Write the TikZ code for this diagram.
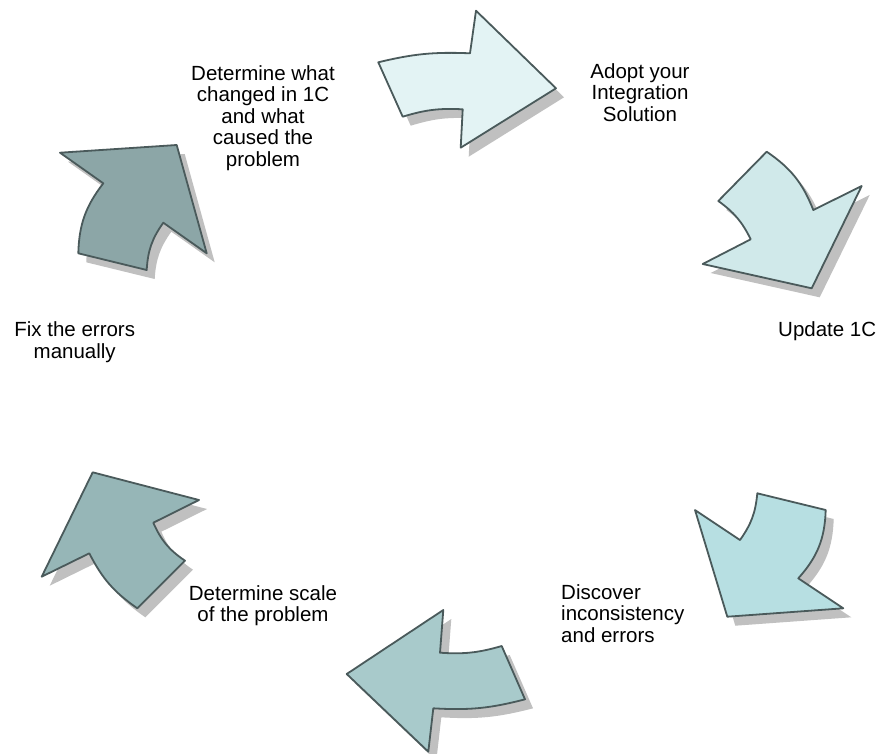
\documentclass[tikz,border=0pt]{standalone}
\usepackage{fontspec}
\setmainfont{Liberation Sans}
\definecolor{strokec}{HTML}{4A5A5B}
\definecolor{shadowc}{HTML}{C0C0C0}
\definecolor{fa}{HTML}{E3F3F4}
\definecolor{fb}{HTML}{D0E9EA}
\definecolor{fc}{HTML}{B7DFE2}
\definecolor{fd}{HTML}{A8CACB}
\definecolor{fe}{HTML}{96B6B7}
\definecolor{ff}{HTML}{8CA6A7}
\tikzset{
  cyclearrow/.style={draw=strokec, line width=1.8pt, line join=round},
  arrowshadow/.style={fill=shadowc, shift={(8,-9)}},
  lbl/.style={font=\fontsize{20.5}{21.5}\selectfont, inner sep=0pt, text=black}
}
\def\arrA{(378.3,-62.3) to[bend left=8] (470,-53.3) -- (476,-10.7) -- (556,-88.3) -- (460.7,-147.7) -- (462.7,-109.3) to[bend right=10] (402.7,-116.7) -- cycle}
\def\arrB{(766.7,-151.7) to[bend left=17] (813.3,-210) -- (861.7,-186) -- (811.7,-288.3) -- (702.7,-264) -- (750.7,-239.3) to[bend right=14] (718.3,-201) -- cycle}
\def\arrC{(757.3,-493.3) -- (825.7,-510) to[bend left=20] (798.3,-578.3) -- (843.3,-608.3) -- (727.3,-616.7) -- (695,-510) -- (740,-540) to[bend right=15] (757.3,-493.3) -- cycle}
\def\arrD{(443.3,-610) -- (346.7,-674) -- (428.3,-751.7) -- (433.3,-708.3) to[bend right=9] (525,-699.3) -- (501.7,-646) to[bend left=10] (440,-652.7) -- cycle}
\def\arrE{(92.7,-472.3) -- (199,-500) -- (153.3,-522.7) to[bend right=16] (185,-560.7) -- (137.3,-608.3) to[bend left=14] (89.3,-553.3) -- (41.7,-576.7) -- cycle}
\def\arrF{(60,-152.7) -- (176.7,-145) -- (206.7,-253.3) -- (163.3,-222.7) to[bend right=16] (146.7,-270) -- (78.3,-253.3) to[bend left=18] (103.3,-183.3) -- cycle}
\begin{document}
\begin{tikzpicture}[x=1pt,y=1pt]
\useasboundingbox (0,0) rectangle (880,-753);
\fill[white] (0,0) rectangle (880,-753);
\path[arrowshadow] \arrA; \filldraw[cyclearrow, fill=fa] \arrA;
\path[arrowshadow] \arrB; \filldraw[cyclearrow, fill=fb] \arrB;
\path[arrowshadow] \arrC; \filldraw[cyclearrow, fill=fc] \arrC;
\path[arrowshadow] \arrD; \filldraw[cyclearrow, fill=fd] \arrD;
\path[arrowshadow] \arrE; \filldraw[cyclearrow, fill=fe] \arrE;
\path[arrowshadow] \arrF; \filldraw[cyclearrow, fill=ff] \arrF;
\node[lbl, align=center] (t1) at (263,-118) {Determine what\\changed in 1C\\and what\\caused the\\problem};
\node[lbl, align=center] (t2) at (640,-92.5) {Adopt your\\Integration\\Solution};
\node[lbl, anchor=base west] (t3) at (778,-336.7) {Update 1C};
\node[lbl, align=left, anchor=west] (t4) at (561,-613.5) {Discover\\inconsistency\\and errors};
\node[lbl, align=center] (t5) at (263,-605.5) {Determine scale\\of the problem};
\node[lbl, align=center] (t6) at (74.7,-342) {Fix the errors\\manually};
\end{tikzpicture}
\end{document}
